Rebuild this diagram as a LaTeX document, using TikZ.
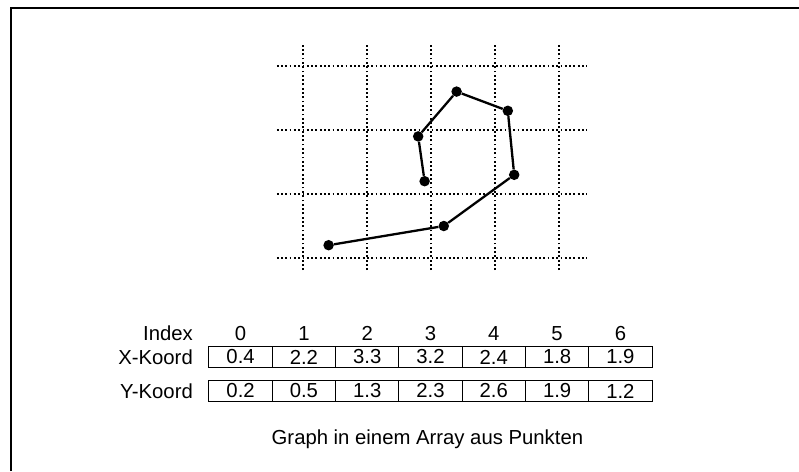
\documentclass[tikz,border=0pt]{standalone}
\usepackage{fontspec}
\setmainfont{Liberation Sans}
\usetikzlibrary{positioning}
\tikzset{
  gd/.style={line width=1.8pt,dash pattern=on 1.8pt off 2.5pt},
  pt/.style={circle,fill=black,minimum size=10.5pt,inner sep=0pt},
  ln/.style={line width=2.3pt},
  tx/.style={font=\fontsize{20.3}{22}\selectfont,inner sep=0pt},
  cl/.style={tx,draw,line width=1pt,minimum width=63.3pt,minimum height=21.5pt}
}
\begin{document}
\begin{tikzpicture}[x=1pt,y=-1pt]
\useasboundingbox (0,0) rectangle (799,471);
\draw[line width=2pt] (11,471) -- (11,8) -- (799,8);
\begin{scope}[shift={(303,258)},x=64pt,y=64pt]
\foreach \i in {0,...,4} \draw[gd] (\i,-0.19) -- (\i,3.36);
\foreach \j in {0,...,3} \draw[gd] (-0.41,\j) -- (4.44,\j);
\node[pt] (p0) at (0.4,0.2) {}; \node[pt] (p1) at (2.2,0.5) {}; \node[pt] (p2) at (3.3,1.3) {};
\node[pt] (p3) at (3.2,2.3) {}; \node[pt] (p4) at (2.4,2.6) {}; \node[pt] (p5) at (1.8,1.9) {};
\node[pt] (p6) at (1.9,1.2) {};
\draw[ln] (p0)--(p1)--(p2)--(p3)--(p4)--(p5)--(p6);
\end{scope}
\node[tx,anchor=base east] (idx) at (193,340.5) {Index};
\node[tx,anchor=east] (xk) at (193,357) {X-Koord};
\node[tx,anchor=east] (yk) at (193,391) {Y-Koord};
\foreach \x/\y [count=\i from 0] in {0.4/0.2,2.2/0.5,3.3/1.3,3.2/2.3,2.4/2.6,1.8/1.9,1.9/1.2}{
  \node[tx,anchor=base] (i\i) at ({240.6+63.3*\i},340.5) {\i};
  \node[cl] (x\i) at ({240.6+63.3*\i},357) {\x};
  \node[cl] (y\i) at ({240.6+63.3*\i},391) {\y};
}
\node[tx,anchor=base west] (cap) at (271.5,444) {Graph in einem Array aus Punkten};
\end{tikzpicture}
\end{document}
